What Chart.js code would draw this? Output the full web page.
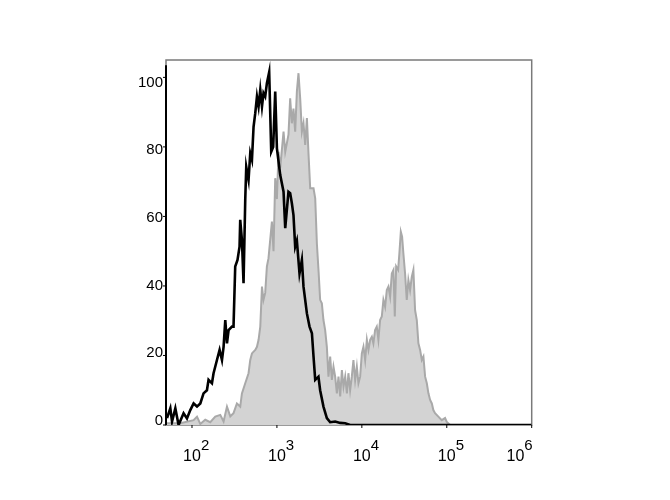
<!DOCTYPE html>
<html>
<head>
<meta charset="utf-8">
<script src="https://cdn.jsdelivr.net/npm/chart.js@4/dist/chart.umd.min.js"></script>
<style>
  html, body { margin: 0; padding: 0; background: #ffffff; }
  #wrap { width: 670px; height: 500px; }
</style>
</head>
<body>
<div id="wrap"><canvas id="c" width="670" height="500"></canvas></div>
<script>
// ---- data (x values given as log10 of fluorescence intensity) ----
const blackLogX = [1.706,1.745,1.765,1.804,1.842,1.901,1.941,1.980,2.019,2.059,2.098,2.136,2.176,2.195,2.235,2.254,2.294,2.325,2.353,2.372,2.392,2.412,2.431,2.471,2.489,2.509,2.536,2.560,2.568,2.588,2.607,2.627,2.639,2.666,2.686,2.706,2.725,2.745,2.765,2.784,2.804,2.824,2.842,2.862,2.882,2.909,2.933,2.956,2.980,3.000,3.039,3.078,3.098,3.136,3.156,3.176,3.195,3.215,3.235,3.266,3.294,3.313,3.353,3.384,3.412,3.431,3.451,3.489,3.509,3.548,3.588,3.627,3.686,3.745,3.804,3.862,6.000];
const blackCounts = [2,4.8,1,4.8,0,3.4,1.9,4.3,6.2,5.3,6.2,9.1,10,13,12,14.9,18.7,21.6,18.7,22.5,30.2,23.5,27.3,28.3,28.3,45.6,47.5,51.3,59,53.2,40.8,64.7,74.3,70.5,78.2,76.3,85.8,89.7,94.5,91.6,96.4,91.6,95.5,94.5,98.3,101.5,78.6,80,95.9,79.6,71.9,67.1,56.6,67.1,66.7,63.8,60.4,51.3,53,43.6,47.5,39.8,32.1,28.3,26.4,19.7,13,13.9,10,5.3,2,0.8,1,0.6,0.5,0,0];

const grayLogX = [1.706,1.862,2.019,2.059,2.098,2.156,2.215,2.274,2.333,2.372,2.412,2.451,2.489,2.529,2.568,2.588,2.627,2.666,2.686,2.706,2.745,2.765,2.784,2.804,2.824,2.842,2.862,2.882,2.901,2.941,2.960,2.980,3.000,3.019,3.039,3.078,3.098,3.136,3.156,3.176,3.195,3.215,3.235,3.254,3.274,3.294,3.313,3.333,3.353,3.372,3.392,3.431,3.451,3.471,3.491,3.509,3.529,3.548,3.568,3.588,3.607,3.627,3.647,3.666,3.686,3.706,3.725,3.745,3.765,3.784,3.804,3.824,3.842,3.862,3.882,3.901,3.921,3.941,3.960,3.980,4.000,4.019,4.039,4.059,4.078,4.098,4.118,4.136,4.156,4.176,4.195,4.215,4.235,4.254,4.274,4.294,4.313,4.333,4.353,4.372,4.388,4.404,4.427,4.442,4.459,4.474,4.489,4.509,4.529,4.548,4.568,4.588,4.607,4.627,4.647,4.666,4.686,4.706,4.725,4.745,4.765,4.784,4.804,4.824,4.842,4.862,4.901,4.941,4.980,5.000,5.039,6.000];
const grayCounts = [0.5,0.5,1.4,2.4,0.3,1.5,0.8,2.4,2.9,1,5.3,2.5,3.4,6.2,5.3,9.1,12,14.9,18.7,20.6,21.6,22.5,24.5,28.3,39.8,36,38,45.6,48,58.5,50,71,65,78.6,74,84.4,78.6,83.5,94,86.8,91,84.4,95.9,101.2,94,84.4,86.8,80.6,88.3,78,68.1,68.1,65.2,52,44,36,35,30.2,27.3,22.5,13.9,19.7,13,16.8,13.9,9.1,13.9,8.2,15.8,11,13.9,9.1,14.9,10,13.9,18.7,12.9,16.8,12,13.9,20.6,22.5,18.7,24.5,21.6,24.5,25.4,23.5,27.3,28.3,24.5,30.2,31.2,36,34,38.8,39.8,36.9,43.6,44.6,31.2,45.6,44.6,49.4,55.6,54.2,49.4,43.6,36,41.7,38.8,42.6,44.6,33,30.2,23.5,21.6,18.7,19.7,13.9,12,9.1,7.2,6.2,4.3,3.4,2.4,1.4,2,0.9,0,0];

const xTickExponents = [2, 3, 4, 5, 6];
const yTickValues = [0, 20, 40, 60, 80, 100];

const xMinLog = 1.694;
const xMaxLog = 6;
const yMax = 105;

function toPoints(logs, counts) {
  return logs.map((l, i) => ({ x: Math.pow(10, l), y: counts[i] }));
}

const axesPlugin = {
  id: 'flowAxes',
  beforeDatasetsDraw(chart) {
    const ctx = chart.ctx, a = chart.chartArea;
    ctx.save();
    ctx.strokeStyle = '#7a7a7a';
    ctx.lineWidth = 1.5;
    ctx.strokeRect(a.left, a.top, a.right - a.left, a.bottom - a.top);
    ctx.restore();
  },
  afterDatasetsDraw(chart) {
    const ctx = chart.ctx, a = chart.chartArea;
    const xs = chart.scales.x, ys = chart.scales.y;
    ctx.save();
    // left axis (black)
    ctx.strokeStyle = '#000';
    ctx.lineWidth = 2;
    ctx.beginPath();
    ctx.moveTo(a.left, ys.getPixelForValue(103.5));
    ctx.lineTo(a.left, a.bottom);
    ctx.stroke();
    // y ticks and labels
    ctx.lineWidth = 1;
    ctx.fillStyle = '#000';
    ctx.font = '15px "Liberation Sans", Arial, sans-serif';
    ctx.textAlign = 'right';
    ctx.textBaseline = 'middle';
    yTickValues.forEach(v => {
      const py = ys.getPixelForValue(v);
      ctx.beginPath();
      ctx.moveTo(a.left - 3, py);
      ctx.lineTo(a.left, py);
      ctx.stroke();
      const off = -4 + 9 * v / 100;
      ctx.fillText(String(v), a.left - 3, py + off);
    });
    // x ticks and labels (10 with superscript exponent)
    xTickExponents.forEach(e => {
      const px = xs.getPixelForValue(Math.pow(10, e));
      ctx.strokeStyle = '#000';
      ctx.beginPath();
      ctx.moveTo(px, a.bottom);
      ctx.lineTo(px, a.bottom + 3);
      ctx.stroke();
      ctx.textBaseline = 'alphabetic';
      ctx.textAlign = 'left';
      ctx.font = '16px "Liberation Sans", Arial, sans-serif';
      const base = '10';
      const wb = ctx.measureText(base).width;
      ctx.font = '15px "Liberation Sans", Arial, sans-serif';
      const sup = String(e);
      const ws = ctx.measureText(sup).width;
      let startX = px - wb / 2;
      if (startX + wb + ws > a.right + 1) startX = a.right + 1 - wb - ws;
      ctx.font = '16px "Liberation Sans", Arial, sans-serif';
      ctx.fillText(base, startX, 461);
      ctx.font = '15px "Liberation Sans", Arial, sans-serif';
      ctx.fillText(sup, startX + wb, 450);
    });
    ctx.restore();
  }
};

new Chart(document.getElementById('c'), {
  type: 'line',
  data: {
    datasets: [
      {
        label: 'control',
        data: toPoints(blackLogX, blackCounts),
        borderColor: '#000000',
        borderWidth: 2.6,
        pointRadius: 0,
        fill: false,
        tension: 0,
        order: 0
      },
      {
        label: 'stained',
        data: toPoints(grayLogX, grayCounts),
        borderColor: '#a9a9a9',
        backgroundColor: '#d3d3d3',
        borderWidth: 2,
        pointRadius: 0,
        fill: 'origin',
        tension: 0,
        order: 1
      }
    ]
  },
  options: {
    responsive: false,
    animation: false,
    devicePixelRatio: 1,
    layout: { padding: { left: 166, top: 60, right: 138.3, bottom: 75 } },
    plugins: { legend: { display: false }, tooltip: { enabled: false } },
    scales: {
      x: { type: 'logarithmic', min: Math.pow(10, xMinLog), max: Math.pow(10, xMaxLog), display: false },
      y: { type: 'linear', min: 0, max: yMax, display: false }
    }
  },
  plugins: [axesPlugin]
});
</script>
</body>
</html>
